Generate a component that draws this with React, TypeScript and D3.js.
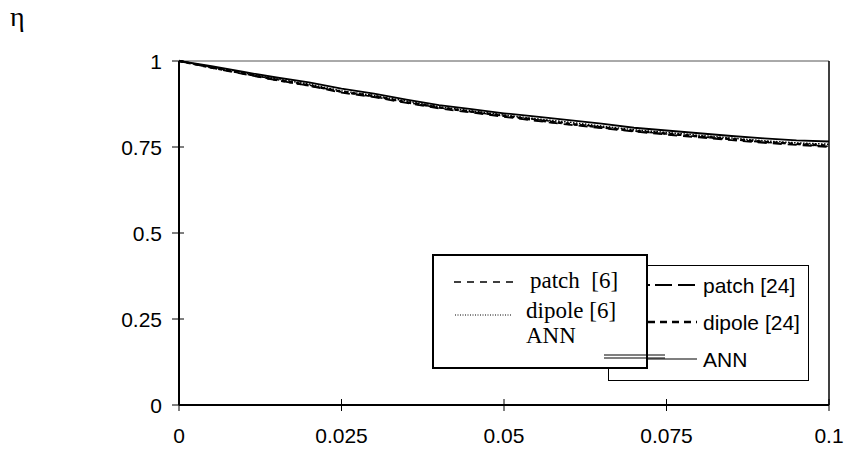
import React, { useEffect, useRef } from 'react';
import * as d3 from 'd3';

// x values (every 0.005) and efficiency curves
const xs = [0, 0.005, 0.01, 0.015, 0.02, 0.025, 0.03, 0.035, 0.04, 0.045, 0.05,
  0.055, 0.06, 0.065, 0.07, 0.075, 0.08, 0.085, 0.09, 0.095, 0.1];
const ann = [1.0, 0.985, 0.968, 0.952, 0.938, 0.92, 0.905, 0.888, 0.872, 0.86, 0.848,
  0.838, 0.828, 0.818, 0.806, 0.798, 0.79, 0.782, 0.775, 0.769, 0.766];
const patch6 = [1.0, 0.982, 0.963, 0.946, 0.93, 0.91, 0.896, 0.88, 0.864, 0.852, 0.84,
  0.83, 0.818, 0.808, 0.796, 0.788, 0.78, 0.772, 0.764, 0.758, 0.752];
const dipole6 = [1.0, 0.983, 0.966, 0.948, 0.933, 0.913, 0.9, 0.884, 0.867, 0.855, 0.843,
  0.832, 0.822, 0.811, 0.8, 0.792, 0.784, 0.776, 0.768, 0.762, 0.758];
const patch24 = [1.0, 0.98, 0.962, 0.944, 0.928, 0.908, 0.895, 0.878, 0.862, 0.85, 0.838,
  0.826, 0.815, 0.805, 0.795, 0.786, 0.778, 0.77, 0.762, 0.756, 0.75];
const dipole24 = [1.0, 0.981, 0.964, 0.945, 0.929, 0.911, 0.898, 0.88, 0.865, 0.853, 0.841,
  0.828, 0.817, 0.807, 0.797, 0.789, 0.781, 0.773, 0.765, 0.759, 0.754];

const xTicks = [0, 0.025, 0.05, 0.075, 0.1];
const xTickLabels = ['0', '0.025', '0.05', '0.075', '0.1'];
const yTicks = [0, 0.25, 0.5, 0.75, 1];
const yTickLabels = ['0', '0.25', '0.5', '0.75', '1'];

const App = () => {
  const svgRef = useRef(null);

  useEffect(() => {
    const svg = d3.select(svgRef.current);
    svg.selectAll('*').remove();

    const width = 845;
    const height = 450;
    const left = 179, right = 829, top = 61, bottom = 405;
    const sans = 'Liberation Sans, Arial, sans-serif';
    const serif = 'Liberation Serif, Times New Roman, serif';

    const x = d3.scaleLinear().domain([0, 0.1]).range([left, right]);
    const y = d3.scaleLinear().domain([0, 1]).range([bottom, top]);

    svg.attr('width', width).attr('height', height);

    // frame on top and right
    svg.append('line').attr('x1', left).attr('x2', right).attr('y1', top).attr('y2', top)
      .attr('stroke', '#555').attr('stroke-width', 1);
    svg.append('line').attr('x1', right).attr('x2', right).attr('y1', top).attr('y2', bottom)
      .attr('stroke', '#000').attr('stroke-width', 1.5);

    // series
    const series = [
      { vals: patch24, dash: '9,6', w: 1.8 },
      { vals: dipole24, dash: '4,4', w: 2.4 },
      { vals: patch6, dash: '4,3', w: 1.6 },
      { vals: dipole6, dash: '1.5,1.5', w: 1.5 },
      { vals: ann, dash: null, w: 1.8 },
    ];
    const line = d3.line<number>().x((_, i) => x(xs[i])).y(d => y(d)).curve(d3.curveLinear);
    series.forEach(s => {
      svg.append('path').datum(s.vals).attr('d', line)
        .attr('fill', 'none').attr('stroke', '#000').attr('stroke-width', s.w)
        .attr('stroke-dasharray', s.dash);
    });

    // axes
    svg.append('line').attr('x1', left).attr('x2', left).attr('y1', top).attr('y2', bottom)
      .attr('stroke', '#000').attr('stroke-width', 2);
    svg.append('line').attr('x1', left).attr('x2', right).attr('y1', bottom).attr('y2', bottom)
      .attr('stroke', '#000').attr('stroke-width', 2);

    yTicks.forEach((t, i) => {
      svg.append('line').attr('x1', left - 7).attr('x2', left + 5)
        .attr('y1', y(t)).attr('y2', y(t)).attr('stroke', '#000').attr('stroke-width', 1);
      svg.append('text').attr('x', left - 17).attr('y', y(t) + 7.5)
        .attr('text-anchor', 'end').attr('font-family', sans).style('font-size', '21px')
        .text(yTickLabels[i]);
    });
    xTicks.forEach((t, i) => {
      svg.append('line').attr('x1', x(t)).attr('x2', x(t))
        .attr('y1', bottom - 6).attr('y2', bottom + 6).attr('stroke', '#000').attr('stroke-width', 1);
      svg.append('text').attr('x', x(t)).attr('y', bottom + 38)
        .attr('text-anchor', 'middle').attr('font-family', sans).style('font-size', '21px')
        .text(xTickLabels[i]);
    });

    // y axis title
    svg.append('text').attr('x', 10).attr('y', 26).attr('font-family', serif)
      .style('font-size', '28px').text('η');

    // legend 2 (behind)
    svg.append('rect').attr('x', 608.5).attr('y', 265.5).attr('width', 200).attr('height', 115)
      .attr('fill', '#fff').attr('stroke', '#000').attr('stroke-width', 1);
    const lg2 = [
      { label: 'patch [24]', dash: '2,5,17,6,17', w: 1.8, yy: 285 },
      { label: 'dipole [24]', dash: '7,5', w: 2.4, yy: 322 },
      { label: 'ANN', dash: null, w: 1.2, yy: 359 },
    ];
    lg2.forEach(l => {
      svg.append('line').attr('x1', 648).attr('x2', 697).attr('y1', l.yy).attr('y2', l.yy)
        .attr('stroke', '#000').attr('stroke-width', l.w).attr('stroke-dasharray', l.dash);
      svg.append('text').attr('x', 703).attr('y', l.yy + 7.5).attr('font-family', sans)
        .style('font-size', '21px').text(l.label);
    });

    // legend 1 (front)
    svg.append('rect').attr('x', 433).attr('y', 255).attr('width', 214).attr('height', 113)
      .attr('fill', '#fff').attr('stroke', '#000').attr('stroke-width', 2);
    const lg1 = [
      { label: 'patch  [6]', dash: '7,6', w: 1.3, yy: 282, x1: 454, x2: 518, tx: 530, by: 288 },
      { label: 'dipole [6]', dash: '1,1.5', w: 1, yy: 315, x1: 455, x2: 512, tx: 526, by: 318 },
    ];
    lg1.forEach(l => {
      svg.append('line').attr('x1', l.x1).attr('x2', l.x2).attr('y1', l.yy).attr('y2', l.yy)
        .attr('stroke', '#000').attr('stroke-width', l.w).attr('stroke-dasharray', l.dash);
      svg.append('text').attr('x', l.tx).attr('y', l.by).attr('font-family', serif)
        .style('font-size', '23px').style('white-space', 'pre').text(l.label);
    });
    svg.append('text').attr('x', 526).attr('y', 343).attr('font-family', serif)
      .style('font-size', '23px').text('ANN');
    // ANN legend line of box 1 (overlapping box edge)
    svg.append('line').attr('x1', 604).attr('x2', 665).attr('y1', 355).attr('y2', 355)
      .attr('stroke', '#000').attr('stroke-width', 1);
    svg.append('line').attr('x1', 604).attr('x2', 665).attr('y1', 358).attr('y2', 358)
      .attr('stroke', '#000').attr('stroke-width', 1);
  }, []);

  return (
    <div style={{ position: 'fixed', left: 0, top: 0, width: 845, height: 450, background: '#fff' }}>
      <svg ref={svgRef} style={{ display: 'block' }}></svg>
    </div>
  );
};

export default App;
